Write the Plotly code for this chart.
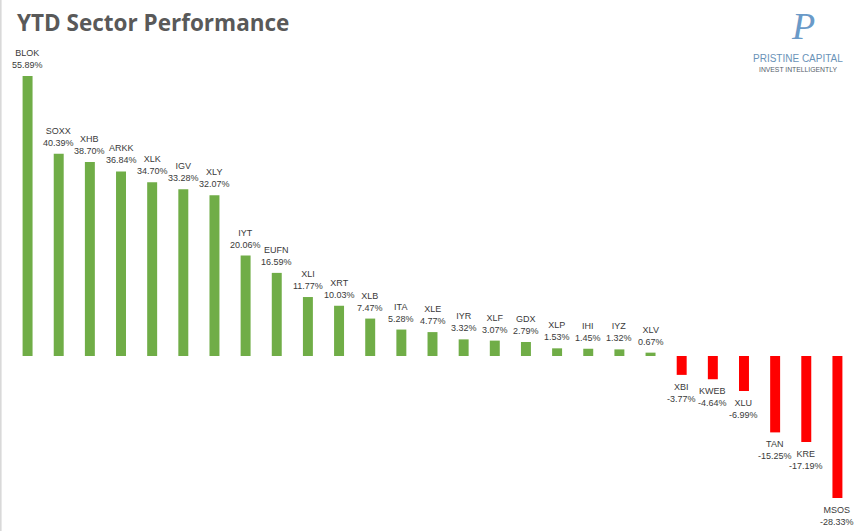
import plotly.graph_objects as go

tickers = ["BLOK", "SOXX", "XHB", "ARKK", "XLK", "IGV", "XLY", "IYT", "EUFN", "XLI",
           "XRT", "XLB", "ITA", "XLE", "IYR", "XLF", "GDX", "XLP", "IHI", "IYZ",
           "XLV", "XBI", "KWEB", "XLU", "TAN", "KRE", "MSOS"]
ytd_pct = [55.89, 40.39, 38.70, 36.84, 34.70, 33.28, 32.07, 20.06, 16.59, 11.77,
           10.03, 7.47, 5.28, 4.77, 3.32, 3.07, 2.79, 1.53, 1.45, 1.32,
           0.67, -3.77, -4.64, -6.99, -15.25, -17.19, -28.33]

colors = ["#70AD47" if v >= 0 else "#FF0000" for v in ytd_pct]
labels = [f"{t}<br>{v:.2f}%" for t, v in zip(tickers, ytd_pct)]

W, H = 865, 531
ml, mr, mt, mb = 12.4, 11.6, 40, 11
plot_w = W - ml - mr
plot_h = H - mt - mb
ppu = 5.01
ymax = (356 - mt) / ppu
ymin = -(H - mb - 356) / ppu

fig = go.Figure(go.Bar(
    x=tickers, y=ytd_pct,
    marker=dict(color=colors, line=dict(width=0)),
    hoverinfo="skip",
))

for t, v, lab in zip(tickers, ytd_pct, labels):
    fig.add_annotation(
        x=t, y=v, text=lab, showarrow=False,
        xanchor="center", yanchor="bottom" if v >= 0 else "top",
        yshift=4 if v >= 0 else -5,
        font=dict(family="Liberation Sans, Arial, sans-serif", size=9, color="#3A3A3A"),
    )

fig.update_layout(
    width=W, height=H,
    margin=dict(l=ml, r=mr, t=mt, b=mb, pad=0),
    paper_bgcolor="white", plot_bgcolor="white",
    bargap=0.68,
    showlegend=False,
    title=dict(text="<b>YTD Sector Performance</b>", x=17 / W, xanchor="left",
               y=1 - 23 / H, yanchor="middle", xref="container", yref="container",
               font=dict(family="Open Sans, sans-serif", size=22.5, color="#595959")),
    xaxis=dict(visible=False, range=[-0.5, len(tickers) - 0.5]),
    yaxis=dict(visible=False, range=[ymin, ymax]),
)

# left border
fig.add_shape(type="line", xref="paper", yref="paper",
              x0=-(ml - 1) / plot_w, x1=-(ml - 1) / plot_w,
              y0=-mb / plot_h, y1=1 + mt / plot_h,
              line=dict(color="#D9D9D9", width=2))

# logo
def px(xp):
    return (xp - ml) / plot_w

def py(yp):
    return 1 - (yp - mt) / plot_h

fig.add_annotation(text="<i>P</i>", xref="paper", yref="paper", x=px(803), y=py(26),
                   showarrow=False, xanchor="center", yanchor="middle",
                   font=dict(family="Liberation Serif, serif", size=38, color="#6A9AC8"))
fig.add_annotation(text="PRISTINE CAPITAL", xref="paper", yref="paper", x=px(798), y=py(59),
                   showarrow=False, xanchor="center", yanchor="middle",
                   font=dict(family="Liberation Sans, Arial, sans-serif", size=10, color="#6A93B8"))
fig.add_annotation(text="INVEST INTELLIGENTLY", xref="paper", yref="paper", x=px(798), y=py(69),
                   showarrow=False, xanchor="center", yanchor="middle",
                   font=dict(family="Liberation Sans, Arial, sans-serif", size=6.8, color="#55606B"))

fig.write_html("out.html", config={"displayModeBar": False},
               post_script="document.body.style.margin='0';")
